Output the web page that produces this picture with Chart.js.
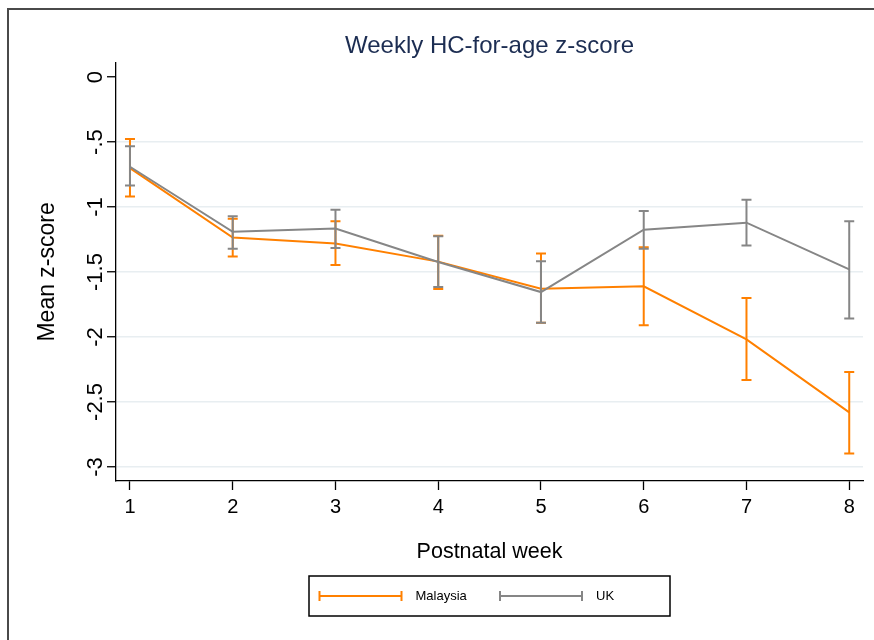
<!DOCTYPE html>
<html>
<head>
<meta charset="utf-8">
<script src="https://cdn.jsdelivr.net/npm/chart.js@4/dist/chart.umd.min.js"></script>
<style>
  html, body { margin: 0; padding: 0; background: #fff; }
  canvas { display: block; }
</style>
</head>
<body>
<canvas id="chart" width="874" height="640"></canvas>
<script>
// Weekly mean head-circumference-for-age z-scores with 95% intervals
const weeks = [1, 2, 3, 4, 5, 6, 7, 8];

const malaysiaMean = [-0.70, -1.235, -1.28, -1.42, -1.628, -1.61, -2.018, -2.58];
const malaysiaLow  = [-0.918, -1.38, -1.446, -1.63, -1.89, -1.91, -2.33, -2.897];
const malaysiaHigh = [-0.477, -1.09, -1.11, -1.22, -1.358, -1.31, -1.70, -2.27];

const ukMean = [-0.69, -1.19, -1.166, -1.423, -1.654, -1.174, -1.12, -1.48];
const ukLow  = [-0.835, -1.32, -1.315, -1.615, -1.89, -1.32, -1.295, -1.858];
const ukHigh = [-0.533, -1.07, -1.02, -1.225, -1.418, -1.03, -0.943, -1.11];

const seriesNames = ['Malaysia', 'UK'];
const yTickValues = [0, -0.5, -1, -1.5, -2, -2.5, -3];
const yTickLabels = ['0', '-.5', '-1', '-1.5', '-2', '-2.5', '-3'];

const FONT = '"Liberation Sans", Arial, Helvetica, sans-serif';
const ORANGE = '#ff8000';
const GRAY = '#868686';

const intervals = [
  { low: malaysiaLow, high: malaysiaHigh },
  { low: ukLow, high: ukHigh }
];

const toPoints = (ys) => weeks.map((w, i) => ({ x: w, y: ys[i] }));

// Capped vertical interval bars, drawn right after each series' line
const errorBars = {
  id: 'errorBars',
  afterDatasetDraw(chart, args) {
    const band = intervals[args.index];
    if (!band) return;
    const ds = chart.data.datasets[args.index];
    const { ctx, scales: { x, y } } = chart;
    const cap = 5;
    ctx.save();
    ctx.strokeStyle = ds.borderColor;
    ctx.lineWidth = 2;
    ctx.beginPath();
    weeks.forEach((w, i) => {
      const px = x.getPixelForValue(w);
      const top = y.getPixelForValue(band.high[i]);
      const bot = y.getPixelForValue(band.low[i]);
      ctx.moveTo(px, top); ctx.lineTo(px, bot);
      ctx.moveTo(px - cap, top); ctx.lineTo(px + cap, top);
      ctx.moveTo(px - cap, bot); ctx.lineTo(px + cap, bot);
    });
    ctx.stroke();
    ctx.restore();
  }
};

// Boxed key below the plot with capped-line symbols
const keyBox = {
  id: 'keyBox',
  afterDraw(chart) {
    const { ctx, chartArea: a } = chart;
    const w = 361, h = 40;
    const left = (a.left + a.right) / 2 - w / 2;
    const top = a.bottom + 95;
    const colW = w / chart.data.datasets.length;
    ctx.save();
    ctx.strokeStyle = '#000';
    ctx.lineWidth = 1.5;
    ctx.strokeRect(left, top, w, h);
    chart.data.datasets.forEach((ds, i) => {
      const x0 = left + i * colW + 9.5;
      const yc = top + h / 2;
      const len = 84;
      ctx.strokeStyle = ds.borderColor;
      ctx.lineWidth = 2;
      ctx.beginPath();
      ctx.moveTo(x0, yc); ctx.lineTo(x0 + len, yc);
      ctx.moveTo(x0 + 1, yc - 5); ctx.lineTo(x0 + 1, yc + 5);
      ctx.moveTo(x0 + len - 1, yc - 5); ctx.lineTo(x0 + len - 1, yc + 5);
      ctx.stroke();
      ctx.fillStyle = '#000';
      ctx.font = '13px ' + FONT;
      ctx.textAlign = 'left';
      ctx.textBaseline = 'middle';
      ctx.fillText(ds.label, x0 + len + 13, yc + 0.5);
    });
    ctx.restore();
  }
};

// White background and outer graph-region frame
const frame = {
  id: 'frame',
  beforeDraw(chart) {
    const { ctx, width, height } = chart;
    ctx.save();
    ctx.fillStyle = '#fff';
    ctx.fillRect(0, 0, width, height);
    ctx.strokeStyle = '#4a4a4a';
    ctx.lineWidth = 2;
    ctx.strokeRect(8, 9, width + 20, height + 20);
    ctx.restore();
  }
};

new Chart(document.getElementById('chart'), {
  type: 'line',
  data: {
    datasets: [
      {
        label: seriesNames[0],
        data: toPoints(malaysiaMean),
        borderColor: ORANGE,
        backgroundColor: ORANGE,
        borderWidth: 2,
        pointRadius: 0,
        tension: 0,
        order: 1
      },
      {
        label: seriesNames[1],
        data: toPoints(ukMean),
        borderColor: GRAY,
        backgroundColor: GRAY,
        borderWidth: 2,
        pointRadius: 0,
        tension: 0,
        order: 0
      }
    ]
  },
  options: {
    responsive: false,
    animation: false,
    devicePixelRatio: 1,
    layout: { padding: { left: 0, right: 11, top: 0, bottom: 69 } },
    plugins: {
      legend: { display: false },
      tooltip: { enabled: false },
      title: {
        display: true,
        fullSize: false,
        text: 'Weekly HC-for-age z-score',
        color: '#1c2d52',
        font: { family: FONT, size: 24, weight: 'normal' },
        padding: { top: 32, bottom: 2 }
      }
    },
    scales: {
      x: {
        type: 'linear',
        min: 0.864,
        max: 8.134,
        afterBuildTicks: (s) => { s.ticks = weeks.map((v) => ({ value: v })); },
        afterFit: (s) => { s.height = 90; },
        ticks: {
          color: '#000',
          font: { family: FONT, size: 20 },
          padding: 5,
          autoSkip: false,
          maxRotation: 0,
          callback: (v) => String(v)
        },
        grid: {
          drawOnChartArea: false,
          drawTicks: true,
          tickLength: 9,
          tickColor: '#000',
          tickWidth: 1.3
        },
        border: { display: true, color: '#000', width: 1.3 },
        title: {
          display: true,
          text: 'Postnatal week',
          color: '#000',
          font: { family: FONT, size: 21.5 },
          padding: { top: 0, bottom: 6 }
        }
      },
      y: {
        type: 'linear',
        min: -3.108,
        max: 0.11,
        afterBuildTicks: (s) => { s.ticks = yTickValues.map((v) => ({ value: v })); },
        afterFit: (s) => { s.width = 116; },
        ticks: {
          color: '#000',
          font: { family: FONT, size: 22 },
          minRotation: 90,
          maxRotation: 90,
          crossAlign: 'center',
          padding: -7.5,
          autoSkip: false,
          callback: (v) => yTickLabels[yTickValues.indexOf(v)]
        },
        grid: {
          color: (c) => (c.tick && c.tick.value === 0 ? 'rgba(0,0,0,0)' : '#e8eef1'),
          lineWidth: 1.5,
          tickColor: '#000',
          tickWidth: 1.3,
          tickLength: 9
        },
        border: { display: true, color: '#000', width: 1.3 },
        title: {
          display: true,
          text: 'Mean z-score',
          color: '#000',
          font: { family: FONT, size: 23 },
          padding: { top: 34, bottom: 0 }
        }
      }
    }
  },
  plugins: [frame, errorBars, keyBox]
});
</script>
</body>
</html>
